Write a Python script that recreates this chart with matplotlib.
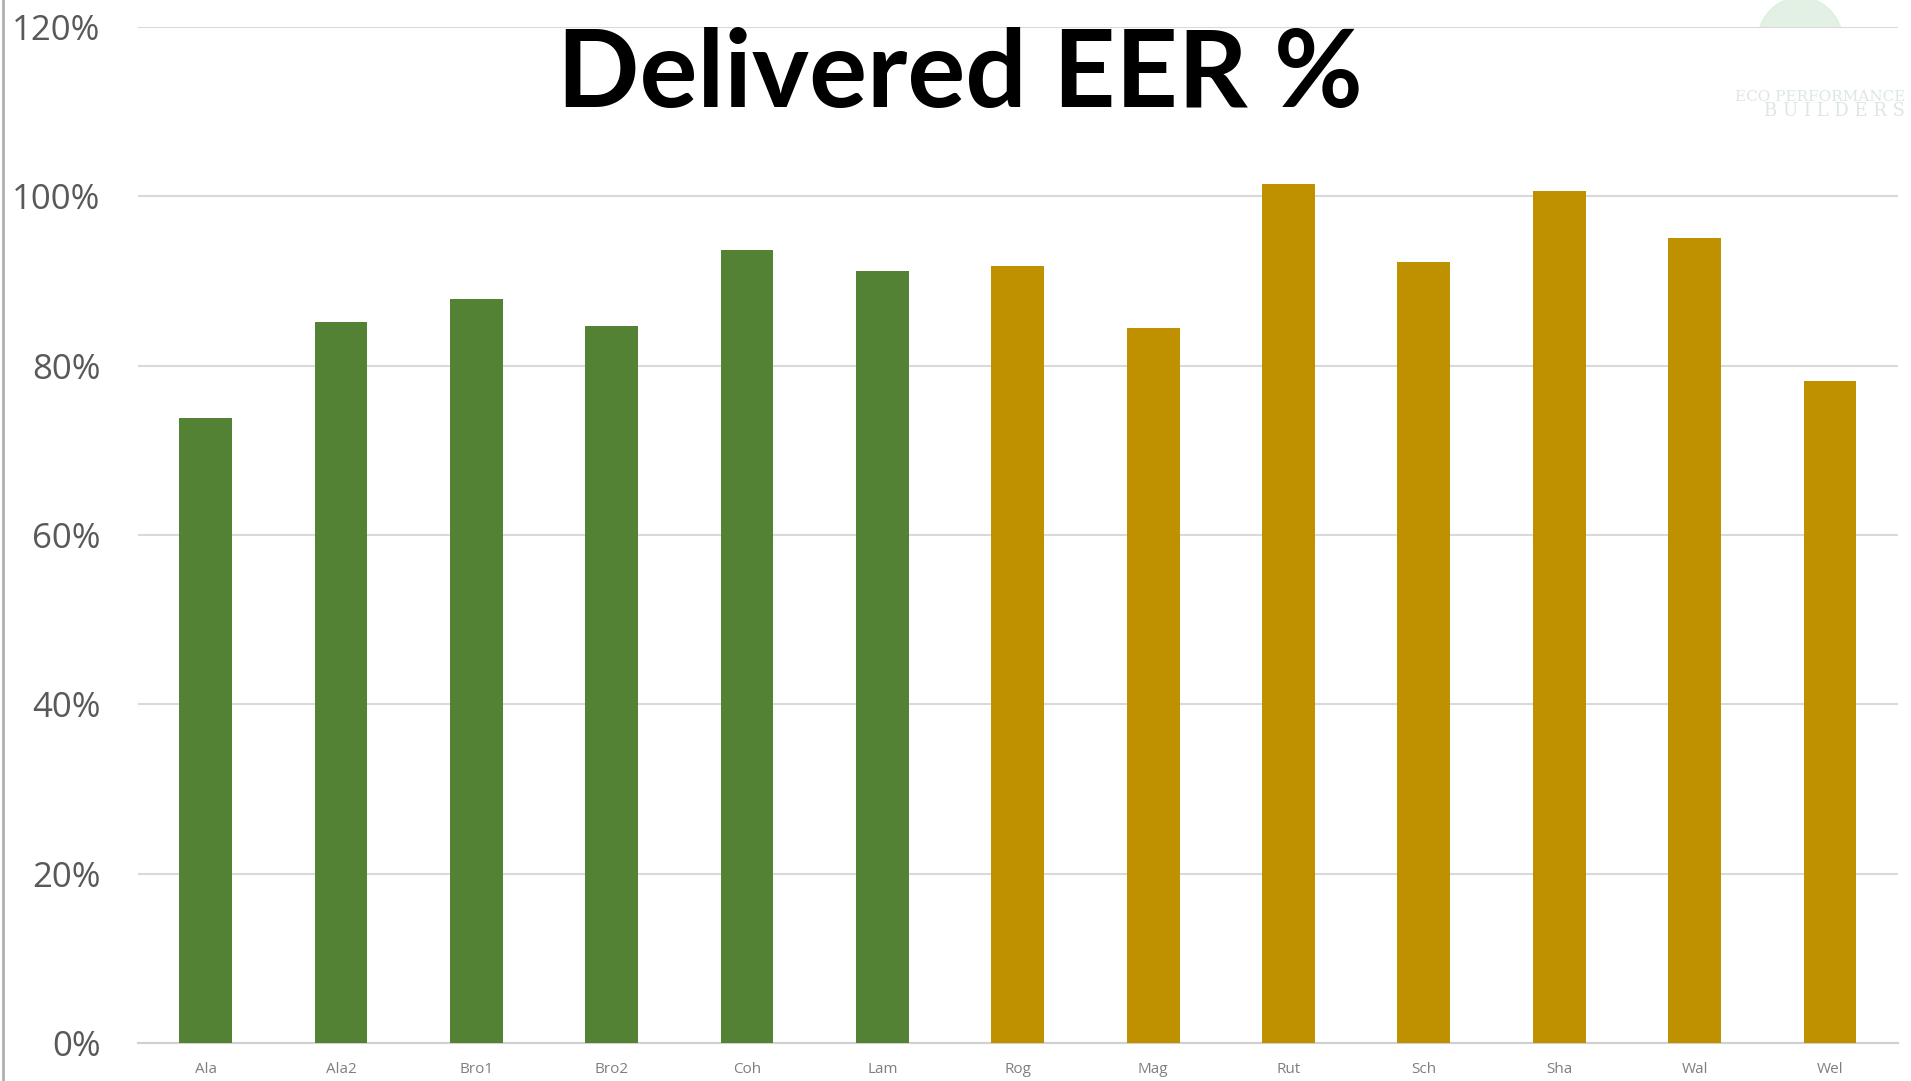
import matplotlib.pyplot as plt
from matplotlib.patches import Ellipse
from matplotlib.lines import Line2D
from matplotlib.ticker import PercentFormatter

names = ["Ala", "Ala2", "Bro1", "Bro2", "Coh", "Lam",
         "Rog", "Mag", "Rut", "Sch", "Sha", "Wal", "Wel"]
eer = [73.8, 85.2, 87.9, 84.7, 93.7, 91.2,
       91.8, 84.4, 101.4, 92.2, 100.6, 95.1, 78.2]
group = ["g"] * 6 + ["y"] * 7   # zielone i zolte slupki
colours = {"g": "#548235", "y": "#BF9000"}

fig = plt.figure(figsize=(19.11, 10.81), dpi=100)
ax = fig.add_axes([0.0722, 0.0352, 0.9208, 0.9398])

ax.bar(range(len(names)), eer, width=0.39,
       color=[colours[g] for g in group], zorder=3)

ax.set_xlim(-0.5, len(names) - 0.5)
ax.set_ylim(0, 120)
ax.set_yticks(range(0, 121, 20))
ax.yaxis.set_major_formatter(PercentFormatter(decimals=0))
ax.set_xticks(range(len(names)))
ax.set_xticklabels(names)

ax.grid(axis="y", color="#d9d9d9", linewidth=1.5, zorder=0)
for s in ["top", "right", "left"]:
    ax.spines[s].set_visible(False)
ax.spines["bottom"].set_color("#d0d0d0")
ax.spines["bottom"].set_linewidth(1.5)
ax.tick_params(axis="y", length=0, pad=27, labelsize=25, labelcolor="#595959")
ax.tick_params(axis="x", length=0, pad=14, labelsize=11, labelcolor="#7f7f7f")
for t in ax.get_yticklabels() + ax.get_xticklabels():
    t.set_fontfamily("Open Sans")

fig.text(0.5024, 0.93, "Delivered EER %", ha="center", va="center",
         fontsize=78, fontweight="bold", family="Lato", color="black")

# logo w rogu - bardzo blady
fig.add_artist(Ellipse((0.942, 0.96), 0.045, 0.085, transform=fig.transFigure,
                       color="#d6ecd8", alpha=0.7, zorder=0))
fig.text(0.997, 0.91, "ECO PERFORMANCE", ha="right", va="center", fontsize=11,
         family="DejaVu Serif", color="#dde6e6")
fig.text(0.997, 0.897, "B U I L D E R S", ha="right", va="center", fontsize=13,
         family="DejaVu Serif", color="#dde6e6")

fig.add_artist(Line2D([0.0015, 0.0015], [0, 1], transform=fig.transFigure,
                      color="#b0b0b0", linewidth=2))

plt.savefig("out.png", dpi=100)
